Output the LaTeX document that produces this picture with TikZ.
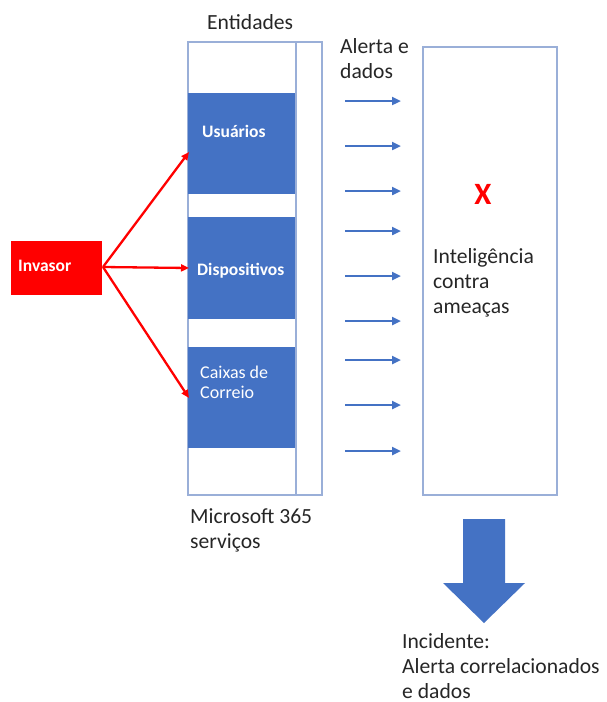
\documentclass[tikz,border=0pt]{standalone}
\usepackage{fontspec}
\setmainfont{Carlito}
\usetikzlibrary{arrows.meta}
\definecolor{oblue}{HTML}{4472C4}
\definecolor{oline}{HTML}{9AAFD8}
\definecolor{ored}{HTML}{FF0000}
\begin{document}
\begin{tikzpicture}[x=1pt,y=-1pt,
  lbl/.style={anchor=base west,inner sep=0pt,font=\fontsize{21.6}{26}\selectfont,text=black!85},
  wlbl/.style={anchor=base west,inner sep=0pt,font=\fontsize{17.5}{20}\selectfont\bfseries,text=white},
  wlblr/.style={anchor=base west,inner sep=0pt,font=\fontsize{18}{20}\selectfont,text=white},
  frame/.style={draw=oline,line width=1.6pt},
  redarrow/.style={ored,line width=2.3pt,-{Triangle[length=8pt,width=7pt]}},
  bluearrow/.style={oblue,line width=2.6pt,-{Triangle[length=9pt,width=8pt]}}]
\useasboundingbox (0,0) rectangle (606,702);
% entity column
\draw[frame] (188,42) rectangle (322,495);
\draw[frame] (296,42) -- (296,495);
\fill[oblue] (188,93) rectangle (295,194);
\fill[oblue] (188,217) rectangle (295,319);
\fill[oblue] (188,347) rectangle (295,448);
\coordinate (usu) at (189,152);
\coordinate (dis) at (189,268);
\coordinate (cai) at (189,398);
\node[wlbl] (usut) at (202,137) {Usuários};
\node[wlbl] (dist) at (197,275) {Dispositivos};
\node[wlblr] (cait1) at (200,378) {Caixas de};
\node[wlblr] (cait2) at (200,398) {Correio};
\node[lbl] (ent) at (207,29) {Entidades};
\node[lbl] (ms1) at (190,523) {Microsoft 365};
\node[lbl] (ms2) at (190,548) {serviços};
% invasor
\fill[ored] (11,241) rectangle (102,295);
\coordinate (inv) at (103,267);
\node[wlbl] (invt) at (18,271) {Invasor};
\draw[redarrow] (inv) -- (usu);
\draw[redarrow] (inv) -- (dis);
\draw[redarrow] (inv) -- (cai);
% alerts
\node[lbl] (al1) at (340,53) {Alerta e};
\node[lbl] (al2) at (340,78) {dados};
\foreach \y [count=\i] in {101,146,191,231,276,321,360,405,451}{
  \coordinate (s\i) at (345,\y);
  \coordinate (e\i) at (401,\y);
  \draw[bluearrow] (s\i) -- (e\i);
}
% threat intelligence
\draw[frame] (423,47) rectangle (557,495);
\node[anchor=base,inner sep=0pt,text=ored,font=\fontsize{31}{31}\selectfont\bfseries] (x) at (483,204) {X};
\node[lbl] (ti1) at (433,263) {Inteligência};
\node[lbl] (ti2) at (433,288) {contra};
\node[lbl] (ti3) at (433,313) {ameaças};
% big arrow
\fill[oblue] (463,519) -- (505,519) -- (505,583) -- (525,583) -- (484,623) -- (443,583) -- (463,583) -- cycle;
\node[lbl] (in1) at (402,648) {Incidente:};
\node[lbl] (in2) at (402,673) {Alerta correlacionados};
\node[lbl] (in3) at (402,698) {e dados};
\end{tikzpicture}
\end{document}
